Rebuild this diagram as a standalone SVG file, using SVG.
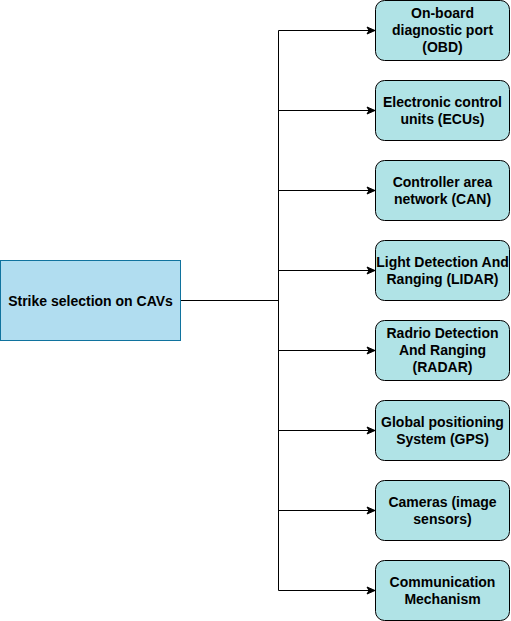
<svg xmlns="http://www.w3.org/2000/svg" width="511" height="621" viewBox="0 0 511 621">
<style>
.t{font-family:"Liberation Sans",Arial,sans-serif;font-size:14px;font-weight:bold;fill:#000;text-anchor:middle}
.n{fill:#b0e3e6;stroke:#000;stroke-width:1}
.c{fill:none;stroke:#000;stroke-width:1}
</style>
<defs>
<marker id="a" markerWidth="10" markerHeight="10" refX="9" refY="5" orient="auto" markerUnits="userSpaceOnUse">
<path d="M1,1.5 L9,5 L1,8.5 L3,5 Z" fill="#000" stroke="#000" stroke-width="1"/>
</marker>
</defs>
<g id="connectors">
<path class="c" d="M180.5,300.5 H278.5"/>
<path class="c" d="M278.5,30.5 V590.5"/>
<path class="c" d="M278.5,30.5 H375" marker-end="url(#a)"/>
<path class="c" d="M278.5,110.5 H375" marker-end="url(#a)"/>
<path class="c" d="M278.5,190.5 H375" marker-end="url(#a)"/>
<path class="c" d="M278.5,270.5 H375" marker-end="url(#a)"/>
<path class="c" d="M278.5,350.5 H375" marker-end="url(#a)"/>
<path class="c" d="M278.5,430.5 H375" marker-end="url(#a)"/>
<path class="c" d="M278.5,510.5 H375" marker-end="url(#a)"/>
<path class="c" d="M278.5,590.5 H375" marker-end="url(#a)"/>
</g>
<g id="root">
<rect x="0.5" y="260.5" width="180" height="80" fill="#b1ddf0" stroke="#10739e"/>
<text class="t" x="90.5" y="305.5">Strike selection on CAVs</text>
</g>
<g id="obd">
<rect class="n" x="375.5" y="0.5" width="134" height="60" rx="9"/>
<text class="t" x="442.5" y="18">On-board</text>
<text class="t" x="442.5" y="35">diagnostic port</text>
<text class="t" x="442.5" y="52">(OBD)</text>
</g>
<g id="ecu">
<rect class="n" x="375.5" y="80.5" width="134" height="60" rx="9"/>
<text class="t" x="442.5" y="106.5">Electronic control</text>
<text class="t" x="442.5" y="123.5">units (ECUs)</text>
</g>
<g id="can">
<rect class="n" x="375.5" y="160.5" width="134" height="60" rx="9"/>
<text class="t" x="442.5" y="186.5">Controller area</text>
<text class="t" x="442.5" y="203.5">network (CAN)</text>
</g>
<g id="lidar">
<rect class="n" x="375.5" y="240.5" width="134" height="60" rx="9"/>
<text class="t" x="442.5" y="266.5">Light Detection And</text>
<text class="t" x="442.5" y="283.5">Ranging (LIDAR)</text>
</g>
<g id="radar">
<rect class="n" x="375.5" y="320.5" width="134" height="60" rx="9"/>
<text class="t" x="442.5" y="338">Radrio Detection</text>
<text class="t" x="442.5" y="355">And Ranging</text>
<text class="t" x="442.5" y="372">(RADAR)</text>
</g>
<g id="gps">
<rect class="n" x="375.5" y="400.5" width="134" height="60" rx="9"/>
<text class="t" x="442.5" y="426.5">Global positioning</text>
<text class="t" x="442.5" y="443.5">System (GPS)</text>
</g>
<g id="cameras">
<rect class="n" x="375.5" y="480.5" width="134" height="60" rx="9"/>
<text class="t" x="442.5" y="506.5">Cameras (image</text>
<text class="t" x="442.5" y="523.5">sensors)</text>
</g>
<g id="comm">
<rect class="n" x="375.5" y="560.5" width="134" height="60" rx="9"/>
<text class="t" x="442.5" y="586.5">Communication</text>
<text class="t" x="442.5" y="603.5">Mechanism</text>
</g>
</svg>
